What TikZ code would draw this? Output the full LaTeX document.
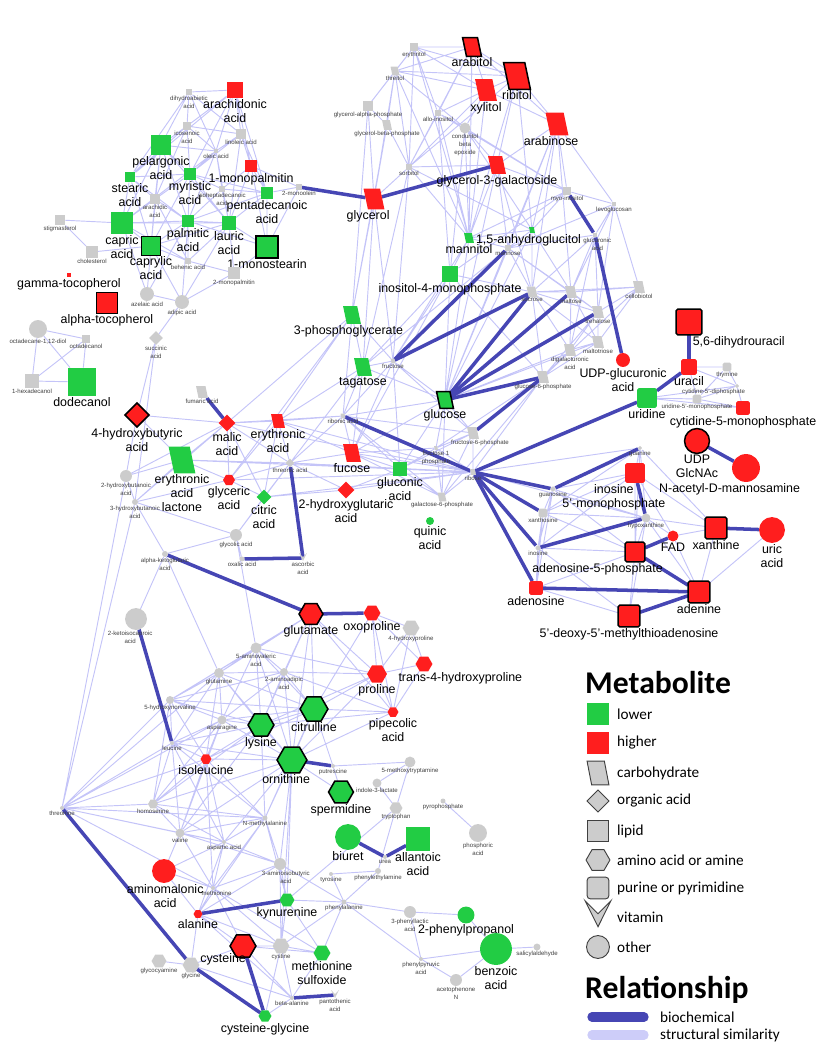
\documentclass[tikz,border=0pt]{standalone}
\usepackage{fontspec}
\setmainfont{Liberation Sans}
\newfontfamily\legfont{Carlito}
\usetikzlibrary{shapes,backgrounds}
\definecolor{lowgreen}{RGB}{34,204,68}
\definecolor{highred}{RGB}{255,30,30}
\definecolor{nodegray}{RGB}{204,204,204}
\definecolor{biochem}{RGB}{70,70,180}
\definecolor{simedge}{RGB}{196,196,248}

\tikzset{
  met/.style={inner sep=0pt, outer sep=0pt},
  lipid/.style={met, rectangle, minimum size=#1*0.85pt},
  nucl/.style={met, rectangle, rounded corners=1.5pt, minimum size=#1*0.85pt},
  other/.style={met, circle, minimum size=#1*0.85pt},
  oacid/.style={met, diamond, minimum size=#1*0.85pt},
  amine/.style={met, regular polygon, regular polygon sides=6, minimum size=#1*0.85pt},
  carbo/.style={met, inner sep=0.1pt, trapezium, trapezium left angle=110, trapezium right angle=70,
    trapezium stretches=true, minimum height=#1*0.85pt, minimum width=#1*0.85pt},
  vitam/.style={met, inner sep=0.1pt, dart, dart tip angle=53, dart tail angle=100,
    shape border rotate=270, minimum size=#1*0.85pt},
  lowfill/.style={fill=lowgreen},
  highfill/.style={fill=highred},
  nafill/.style={fill=nodegray},
  sig/.style={draw=black, line width=1.3pt},
  biglbl/.style={font=\fontsize{10.6}{12}\selectfont, align=center, inner sep=1pt},
  smalllbl/.style={font=\fontsize{5.2}{6.6}\selectfont, text=black!75, align=center, inner sep=0.6pt},
  blab/.style={label={[biglbl]below:#1}},
  slab/.style={label={[smalllbl]below:#1}},
  sim/.style={draw=simedge, line width=0.8pt},
  bio/.style={draw=biochem, line width=3pt},
  keytitle/.style={font=\legfont\bfseries\fontsize{27}{30}\selectfont, inner sep=0pt, anchor=west},
  keytext/.style={font=\legfont\fontsize{13}{15}\selectfont, inner sep=0pt, anchor=west},
  keyshape/.style={fill=nodegray, draw=black!75, line width=0.8pt},
}

\begin{document}
\begin{tikzpicture}[x=0.03cm, y=-0.03cm]
\useasboundingbox (0,0) rectangle (819,1050);

% lipids
\node[lipid=7, nafill, slab={dihydroabietic\\acid}] (dihydroabietic) at (189,92) {};
\node[lipid=17, highfill, blab={arachidonic\\acid}] (arachidonic) at (235,90) {};
\node[lipid=8, nafill, slab={icosenoic\\acid}] (icosenoic) at (187,126) {};
\node[lipid=10, nafill, slab={linoleic acid}] (linoleic) at (241,134) {};
\node[lipid=4, nafill, slab={oleic acid}] (oleic) at (216,151) {};
\node[lipid=20, lowfill, blab={pelargonic\\acid}] (pelargonic) at (161,145) {};
\node[lipid=12, highfill, blab={1-monopalmitin}] (onemonopalm) at (251,166) {};
\node[lipid=11, lowfill, blab={stearic\\acid}] (stearic) at (130,177) {};
\node[lipid=13, lowfill, blab={myristic\\acid}] (myristic) at (190,174) {};
\node[lipid=6, nafill, slab={isoheptadecanoic\\acid}] (isoheptadec) at (222,189) {};
\node[lipid=10, nafill, slab={arachidic\\acid}] (arachidic) at (155,199) {};
\node[lipid=13, lowfill, blab={pentadecanoic\\acid}] (pentadecanoic) at (267,193) {};
\node[lipid=22, lowfill, blab={capric\\acid}] (capric) at (122,223) {};
\node[lipid=12, lowfill, blab={palmitic\\acid}] (palmitic) at (188,221) {};
\node[lipid=14, lowfill, blab={lauric\\acid}] (lauric) at (229,223) {};
\node[lipid=22, lowfill, sig, blab={1-monostearin}] (onemonostear) at (267,247) {};
\node[lipid=19, lowfill, sig, blab={caprylic\\acid}] (caprylic) at (151,246) {};
\node[lipid=11, nafill, slab={stigmasterol}] (stigmasterol) at (60,220) {};
\node[lipid=12, nafill, slab={cholesterol}] (cholesterol) at (92,252) {};
\node[lipid=6, nafill, slab={behenic acid}] (behenic) at (188,261) {};
\node[lipid=4, highfill, blab={gamma-tocopherol}] (gammatoco) at (69,275) {};
\node[lipid=12, nafill, slab={2-monopalmitin}] (twomonopalm) at (234,273) {};
\node[lipid=21, highfill, sig, blab={alpha-tocopherol}] (alphatoco) at (107,303) {};
\node[other=14, nafill, slab={azelaic acid}] (azelaic) at (147,294) {};
\node[other=14, nafill, slab={adipic acid}] (adipic) at (182,302) {};
\node[other=18, nafill, slab={octadecane-1,12-diol}] (octadecanediol) at (38,329) {};
\node[lipid=8, nafill, slab={octadecanol}] (octadecanol) at (86,339) {};
\node[oacid=14, nafill, slab={succinic\\acid}] (succinic) at (156,338) {};
\node[lipid=14, nafill, slab={1-hexadecanol}] (hexadecanol) at (32,381) {};
\node[lipid=29, lowfill, blab={dodecanol}] (dodecanol) at (82,382) {};
\node[lipid=6, nafill, slab={2-monoolein}] (twomonoolein) at (299,187) {};

% sugars and polyols
\node[lipid=8, nafill, slab={erythritol}] (erythritol) at (414,47) {};
\node[carbo=9, nafill, slab={threitol}] (threitol) at (395,71) {};
\node[carbo=19, highfill, sig, blab={arabitol}] (arabitol) at (472,47) {};
\node[carbo=27, highfill, sig, blab={ribitol}] (ribitol) at (517,76) {};
\node[carbo=22, highfill, blab={xylitol}] (xylitol) at (486,90) {};
\node[lipid=10, nafill, slab={glycerol-alpha-phosphate}] (glycerolalpha) at (368,106) {};
\node[carbo=10, nafill, slab={glycerol-beta-phosphate}] (glycerolbeta) at (387,125) {};
\node[lipid=7, nafill, slab={allo-inositol}] (alloinositol) at (438,113) {};
\node[other=11, nafill, slab={conduritol\\beta\\epoxide}] (conduritol) at (465,128) {};
\node[lipid=6, nafill, slab={sorbitol}] (sorbitol) at (409,167) {};
\node[carbo=21, highfill, label={[biglbl,xshift=-5pt]below:glycerol}] (glycerol) at (374,199) {};
\node[carbo=18, highfill, blab={glycerol-3-galactoside}] (glycgal) at (497,165) {};
\node[carbo=23, highfill, label={[biglbl,xshift=-5pt]below:arabinose}] (arabinose) at (557,124) {};
\node[carbo=10, lowfill, blab={mannitol}] (mannitol) at (469,238) {};
\node[carbo=6, lowfill, label={[biglbl,xshift=-3pt]below:1,5-anhydroglucitol}] (anhydroglucitol) at (532,230) {};
\node[lipid=6, nafill, slab={mannose}] (mannose) at (508,248) {};
\node[lipid=9, nafill, slab={myo-inositol}] (myoinositol) at (567,191) {};
\node[lipid=5, nafill, slab={levoglucosan}] (levoglucosan) at (614,204) {};
\node[lipid=5, nafill, label={[smalllbl,xshift=2pt]below:glucuronic\\acid}] (glucuronic) at (595,235) {};
\node[lipid=17, lowfill, blab={inositol-4-monophosphate}] (inositolmp) at (450,274) {};
\node[carbo=11, nafill, slab={sucrose}] (sucrose) at (532,292) {};
\node[carbo=12, nafill, slab={maltose}] (maltose) at (571,292) {};
\node[carbo=12, nafill, slab={cellobiotol}] (cellobiotol) at (639,287) {};
\node[carbo=12, nafill, slab={trehalose}] (trehalose) at (598,312) {};
\node[carbo=12, nafill, slab={maltotriose}] (maltotriose) at (598,342) {};
\node[carbo=12, nafill, slab={digalacturonic\\acid}] (digalacturonic) at (570,350) {};
\node[carbo=12, nafill, slab={glucose-6-phosphate}] (glucosesixp) at (543,377) {};
\node[carbo=18, lowfill, label={[biglbl,xshift=-3pt]below:3-phosphoglycerate}] (phosphoglycerate) at (352,315) {};
\node[carbo=5, nafill, slab={fructose}] (fructose) at (393,361) {};
\node[carbo=18, lowfill, blab={tagatose}] (tagatose) at (363,367) {};
\node[carbo=17, lowfill, sig, blab={glucose}] (glucose) at (445,400) {};
\node[carbo=12, nafill, label={[smalllbl,xshift=6pt]below:fructose-6-phosphate}] (fructosesixp) at (473,433) {};
\node[carbo=4, nafill, slab={fructose 1\\phosphate}] (fructoseonep) at (436,448) {};
\node[carbo=5, nafill, slab={ribonic acid}] (ribonic) at (343,416) {};
\node[carbo=6, nafill, slab={ribose}] (ribose) at (473,472) {};
\node[oacid=9, nafill, slab={threonic acid}] (threonic) at (290,463) {};
\node[carbo=18, highfill, blab={fucose}] (fucose) at (352,453) {};
\node[lipid=15, lowfill, blab={gluconic\\acid}] (gluconic) at (400,469) {};
\node[oacid=17, highfill, blab={2-hydroxyglutaric\\acid}] (hydroxyglutaric) at (346,490) {};
\node[carbo=9, nafill, slab={galactose-6-phosphate}] (galactosesixp) at (442,497) {};
\node[other=8, lowfill, blab={quinic\\acid}] (quinic) at (430,521) {};

% organic acids
\node[carbo=12, nafill, slab={fumaric acid}] (fumaric) at (202,392) {};
\node[oacid=24, highfill, sig, blab={4-hydroxybutyric\\acid}] (hydroxybutyric) at (137,415) {};
\node[oacid=17, highfill, blab={malic\\acid}] (malic) at (227,423) {};
\node[carbo=14, highfill, blab={erythronic\\acid}] (erythronic) at (278,421) {};
\node[carbo=27, lowfill, blab={erythronic\\acid\\lactone}] (erythroniclactone) at (182,460) {};
\node[amine=12, highfill, blab={glyceric\\acid}] (glyceric) at (229,480) {};
\node[oacid=15, lowfill, blab={citric\\acid}] (citric) at (264,497) {};
\node[other=12, nafill, slab={2-hydroxybutanoic\\acid}] (hydroxybutanoictwo) at (126,476) {};
\node[other=6, nafill, slab={3-hydroxybutanoic\\acid}] (hydroxybutanoicthree) at (135,502) {};
\node[other=12, nafill, slab={glycolic acid}] (glycolic) at (236,535) {};
\node[other=5, nafill, slab={oxalic acid}] (oxalic) at (242,559) {};
\node[other=6, nafill, slab={alpha-ketoglutaric\\acid}] (ketoglutaric) at (165,554) {};
\node[vitam=8, nafill, slab={ascorbic\\acid}] (ascorbic) at (303,558) {};

% purines and pyrimidines
\node[nucl=26, highfill, sig, label={[biglbl,anchor=north west,xshift=-9pt]south east:5,6-dihydrouracil}] (dihydrouracil) at (689,322) {};
\node[nucl=16, highfill, blab={uracil}] (uracil) at (689,367) {};
\node[nucl=9, nafill, slab={thymine}] (thymine) at (727,367) {};
\node[nucl=4, nafill, label={[smalllbl,xshift=-20pt]below:cytidine-5'-diphosphate}] (cdp) at (737,386) {};
\node[nucl=20, lowfill, blab={uridine}] (uridine) at (647,398) {};
\node[nucl=9, nafill, slab={uridine-5'-monophosphate}] (ump) at (697,399) {};
\node[nucl=14, highfill, blab={cytidine-5-monophosphate}] (cmp) at (743,408) {};
\node[other=14, highfill, blab={UDP-glucuronic\\acid}] (udpglucuronic) at (623,360) {};
\node[other=25, highfill, sig, blab={UDP\\GlcNAc}] (udpglcnac) at (697,441) {};
\node[other=28, highfill, label={[biglbl,xshift=-14pt]below:N-acetyl-D-mannosamine}] (acetylmannosamine) at (746,468) {};
\node[nucl=4, nafill, slab={guanine}] (guanine) at (640,448) {};
\node[nucl=20, highfill, label={[biglbl,xshift=-18pt]below:inosine\\5'-monophosphate}] (imp) at (635,473) {};
\node[nucl=5, nafill, slab={guanosine}] (guanosine) at (553,489) {};
\node[nucl=9, nafill, slab={xanthosine}] (xanthosine) at (543,513) {};
\node[other=9, nafill, slab={hypoxanthine}] (hypoxanthine) at (646,518) {};
\node[nucl=5, nafill, slab={inosine}] (inosine) at (538,548) {};
\node[other=11, highfill, blab={FAD}] (fad) at (673,536) {};
\node[nucl=20, highfill, sig, label={[biglbl,xshift=-32pt]below:adenosine-5-phosphate}] (amp) at (635,552) {};
\node[nucl=22, highfill, sig, blab={xanthine}] (xanthine) at (716,528) {};
\node[other=26, highfill, blab={uric\\acid}] (uric) at (772,530) {};
\node[nucl=14, highfill, blab={adenosine}] (adenosine) at (536,588) {};
\node[nucl=22, highfill, sig, blab={adenine}] (adenine) at (699,592) {};
\node[nucl=22, highfill, sig, blab={5'-deoxy-5'-methylthioadenosine}] (methylthioadenosine) at (629,616) {};

% amino acids and amines
\node[other=22, nafill, label={[smalllbl,xshift=-5pt]below:2-ketoisocaproic\\acid}] (ketoisocaproic) at (136,619) {};
\node[amine=24, highfill, sig, blab={glutamate}] (glutamate) at (311,614) {};
\node[amine=17, highfill, blab={oxoproline}] (oxoproline) at (372,613) {};
\node[amine=17, nafill, slab={4-hydroxyproline}] (hydroxyproline) at (411,628) {};
\node[amine=17, highfill, label={[biglbl,xshift=31pt]below:trans-4-hydroxyproline}] (transhydroxyproline) at (424,664) {};
\node[amine=20, highfill, blab={proline}] (proline) at (377,674) {};
\node[other=11, nafill, slab={5-aminovaleric\\acid}] (aminovaleric) at (256,648) {};
\node[other=10, nafill, slab={glutamine}] (glutamine) at (219,673) {};
\node[other=8, nafill, slab={2-aminoadipic\\acid}] (aminoadipic) at (284,672) {};
\node[other=8, nafill, slab={5-hydroxynorvaline}] (hydroxynorvaline) at (170,700) {};
\node[other=9, nafill, slab={asparagine}] (asparagine) at (222,720) {};
\node[amine=26, lowfill, sig, blab={lysine}] (lysine) at (261,725) {};
\node[amine=28, lowfill, sig, blab={citrulline}] (citrulline) at (314,709) {};
\node[amine=11, highfill, blab={pipecolic\\acid}] (pipecolic) at (393,712) {};
\node[other=4, nafill, slab={leucine}] (leucine) at (172,743) {};
\node[amine=11, highfill, blab={isoleucine}] (isoleucine) at (206,759) {};
\node[amine=30, lowfill, sig, label={[biglbl,xshift=-5pt]below:ornithine}] (ornithine) at (292,760) {};
\node[other=4, nafill, slab={putrescine}] (putrescine) at (333,766) {};
\node[other=11, nafill, slab={5-methoxytryptamine}] (methoxytryptamine) at (410,762) {};
\node[amine=25, lowfill, sig, blab={spermidine}] (spermidine) at (341,792) {};
\node[other=9, nafill, slab={indole-3-lactate}] (indolelactate) at (377,783) {};
\node[amine=13, nafill, slab={tryptophan}] (tryptophan) at (396,808) {};
\node[other=5, nafill, slab={pyrophosphate}] (pyrophosphate) at (443,801) {};
\node[other=18, nafill, slab={phosphoric\\acid}] (phosphoric) at (478,833) {};
\node[other=26, lowfill, blab={biuret}] (biuret) at (348,837) {};
\node[lipid=24, lowfill, blab={allantoic\\acid}] (allantoic) at (418,839) {};
\node[other=4, nafill, slab={urea}] (urea) at (385,857) {};
\node[other=4, nafill, slab={tyrosine}] (tyrosine) at (331,874) {};
\node[other=6, nafill, slab={phenylethylamine}] (phenylethylamine) at (378,871) {};
\node[other=5, nafill, slab={phenylalanine}] (phenylalanine) at (344,902) {};
\node[other=12, nafill, slab={3-phenyllactic\\acid}] (phenyllactic) at (410,912) {};
\node[other=17, lowfill, blab={2-phenylpropanol}] (phenylpropanol) at (466,915) {};
\node[other=32, lowfill, blab={benzoic\\acid}] (benzoic) at (496,949) {};
\node[other=7, nafill, slab={salicylaldehyde}] (salicylaldehyde) at (537,947) {};
\node[other=4, nafill, slab={phenylpyruvic\\acid}] (phenylpyruvic) at (421,959) {};
\node[other=12, nafill, slab={acetophenone\\N}] (acetophenone) at (456,980) {};
\node[other=4, nafill, slab={threonine}] (threonine) at (62,808) {};
\node[amine=10, nafill, slab={homoserine}] (homoserine) at (153,804) {};
\node[other=5, nafill, slab={N-methylalanine}] (methylalanine) at (265,818) {};
\node[other=9, nafill, slab={valine}] (valine) at (180,833) {};
\node[other=4, nafill, slab={aspartic acid}] (aspartic) at (224,842) {};
\node[other=24, highfill, label={[biglbl,xshift=1pt]below:aminomalonic\\acid}] (aminomalonic) at (164,871) {};
\node[other=4, nafill, label={[smalllbl,xshift=3pt]below:methionine}] (methionine) at (213,888) {};
\node[other=12, nafill, label={[smalllbl,xshift=5pt]below:3-aminoisobutyric\\acid}] (aminoisobutyric) at (280,864) {};
\node[amine=9, highfill, blab={alanine}] (alanine) at (198,914) {};
\node[amine=15, lowfill, blab={kynurenine}] (kynurenine) at (287,900) {};
\node[amine=26, highfill, sig, label={[biglbl,xshift=-17pt,yshift=4pt]below:cysteine}] (cysteine) at (243,946) {};
\node[amine=15, nafill, slab={glycocyamine}] (glycocyamine) at (159,961) {};
\node[amine=17, nafill, slab={glycine}] (glycine) at (191,965) {};
\node[amine=13, lowfill, blab={cysteine-glycine}] (cysteineglycine) at (265,1016) {};
\node[amine=17, nafill, slab={cystine}] (cystine) at (281,946) {};
\node[amine=17, lowfill, blab={methionine\\sulfoxide}] (methioninesulfoxide) at (322,953) {};
\node[other=4, nafill, slab={beta-alanine}] (betaalanine) at (292,998) {};
\node[vitam=8, nafill, slab={pantothenic\\acid}] (pantothenic) at (335,995) {};

\begin{scope}[on background layer]
% structural similarity
\draw[sim] (dihydroabietic) -- (arachidonic) (dihydroabietic) -- (icosenoic) (dihydroabietic) -- (linoleic)
  (dihydroabietic) -- (pelargonic) (dihydroabietic) -- (oleic) (dihydroabietic) -- (stearic)
  (arachidonic) -- (icosenoic) (arachidonic) -- (linoleic) (arachidonic) -- (oleic) (arachidonic) -- (myristic)
  (arachidonic) -- (onemonopalm) (arachidonic) -- (stearic) (arachidonic) -- (pentadecanoic)
  (icosenoic) -- (pelargonic) (icosenoic) -- (linoleic) (icosenoic) -- (oleic) (icosenoic) -- (stearic)
  (icosenoic) -- (arachidic) (icosenoic) -- (myristic)
  (linoleic) -- (oleic) (linoleic) -- (onemonopalm) (linoleic) -- (pentadecanoic) (linoleic) -- (lauric) (linoleic) -- (myristic)
  (oleic) -- (pelargonic) (oleic) -- (myristic) (oleic) -- (isoheptadec) (oleic) -- (palmitic) (oleic) -- (capric) (oleic) -- (lauric)
  (pelargonic) -- (stearic) (pelargonic) -- (myristic) (pelargonic) -- (arachidic) (pelargonic) -- (capric)
  (pelargonic) -- (palmitic) (pelargonic) -- (lauric) (pelargonic) -- (caprylic)
  (stearic) -- (myristic) (stearic) -- (arachidic) (stearic) -- (capric) (stearic) -- (caprylic) (stearic) -- (palmitic)
  (myristic) -- (isoheptadec) (myristic) -- (palmitic) (myristic) -- (lauric) (myristic) -- (pentadecanoic)
  (myristic) -- (capric) (myristic) -- (caprylic)
  (isoheptadec) -- (pentadecanoic) (isoheptadec) -- (lauric) (isoheptadec) -- (onemonopalm) (isoheptadec) -- (palmitic)
  (arachidic) -- (capric) (arachidic) -- (palmitic) (arachidic) -- (caprylic) (arachidic) -- (behenic)
  (pentadecanoic) -- (lauric) (pentadecanoic) -- (onemonostear) (pentadecanoic) -- (onemonopalm)
  (pentadecanoic) -- (twomonoolein) (pentadecanoic) -- (palmitic)
  (onemonopalm) -- (twomonoolein) (onemonopalm) -- (onemonostear) (onemonopalm) -- (lauric)
  (capric) -- (caprylic) (capric) -- (palmitic) (capric) -- (lauric) (capric) -- (stigmasterol) (capric) -- (behenic)
  (palmitic) -- (lauric) (palmitic) -- (caprylic) (palmitic) -- (behenic) (palmitic) -- (onemonostear)
  (lauric) -- (onemonostear) (lauric) -- (caprylic) (lauric) -- (behenic) (lauric) -- (twomonopalm)
  (onemonostear) -- (twomonopalm) (onemonostear) -- (twomonoolein)
  (caprylic) -- (behenic) (caprylic) -- (azelaic) (caprylic) -- (adipic) (behenic) -- (twomonopalm)
  (stigmasterol) -- (cholesterol) (cholesterol) -- (caprylic)
  (azelaic) -- (adipic) (azelaic) -- (capric) (azelaic) -- (palmitic) (adipic) -- (lauric) (adipic) -- (palmitic)
  (adipic) -- (succinic) (adipic) -- (twomonopalm)
  (octadecanediol) -- (octadecanol) (octadecanediol) -- (hexadecanol) (octadecanediol) -- (dodecanol)
  (octadecanol) -- (dodecanol) (octadecanol) -- (hexadecanol) (hexadecanol) -- (dodecanol);
\draw[sim] (erythritol) -- (threitol) (erythritol) -- (arabitol) (erythritol) -- (ribitol) (erythritol) -- (xylitol)
  (erythritol) -- (glycerolalpha) (erythritol) -- (sorbitol) (erythritol) -- (alloinositol) (erythritol) -- (mannitol)
  (threitol) -- (arabitol) (threitol) -- (xylitol) (threitol) -- (ribitol) (threitol) -- (glycerolalpha)
  (threitol) -- (glycerolbeta) (threitol) -- (sorbitol) (threitol) -- (conduritol) (threitol) -- (glycerol) (threitol) -- (mannitol)
  (arabitol) -- (xylitol) (arabitol) -- (ribitol) (arabitol) -- (sorbitol) (arabitol) -- (arabinose)
  (arabitol) -- (mannitol) (arabitol) -- (alloinositol)
  (ribitol) -- (xylitol) (ribitol) -- (arabinose) (ribitol) -- (sorbitol) (ribitol) -- (mannitol)
  (ribitol) -- (glycgal) (ribitol) -- (anhydroglucitol)
  (xylitol) -- (sorbitol) (xylitol) -- (mannitol) (xylitol) -- (arabinose) (xylitol) -- (alloinositol) (xylitol) -- (conduritol)
  (glycerolalpha) -- (glycerolbeta) (glycerolalpha) -- (glycerol) (glycerolalpha) -- (phosphoglycerate)
  (glycerolbeta) -- (glycerol) (glycerolbeta) -- (sorbitol) (glycerolbeta) -- (phosphoglycerate)
  (alloinositol) -- (conduritol) (alloinositol) -- (myoinositol) (alloinositol) -- (inositolmp)
  (alloinositol) -- (sorbitol) (alloinositol) -- (mannitol)
  (conduritol) -- (myoinositol) (conduritol) -- (mannitol) (conduritol) -- (glycgal) (conduritol) -- (inositolmp)
  (conduritol) -- (anhydroglucitol)
  (sorbitol) -- (glycerol) (sorbitol) -- (mannitol) (sorbitol) -- (anhydroglucitol) (sorbitol) -- (glycgal)
  (sorbitol) -- (fructose) (sorbitol) -- (tagatose)
  (glycgal) -- (arabinose) (glycgal) -- (mannitol) (glycgal) -- (myoinositol) (glycgal) -- (glucose)
  (glycgal) -- (sucrose) (glycgal) -- (mannose)
  (arabinose) -- (mannose) (arabinose) -- (myoinositol) (arabinose) -- (levoglucosan) (arabinose) -- (anhydroglucitol)
  (arabinose) -- (sucrose) (arabinose) -- (glucose) (arabinose) -- (maltose)
  (myoinositol) -- (levoglucosan) (myoinositol) -- (inositolmp) (myoinositol) -- (anhydroglucitol) (myoinositol) -- (mannitol)
  (levoglucosan) -- (cellobiotol) (levoglucosan) -- (glucuronic) (levoglucosan) -- (maltose)
  (levoglucosan) -- (trehalose) (levoglucosan) -- (mannose)
  (glucuronic) -- (mannose) (glucuronic) -- (maltose) (glucuronic) -- (sucrose) (glucuronic) -- (trehalose)
  (glucuronic) -- (digalacturonic)
  (anhydroglucitol) -- (mannose) (anhydroglucitol) -- (mannitol) (anhydroglucitol) -- (sucrose)
  (anhydroglucitol) -- (maltose) (anhydroglucitol) -- (glucose)
  (mannose) -- (mannitol) (mannose) -- (sucrose) (mannose) -- (maltose) (mannose) -- (glucose)
  (mannose) -- (trehalose) (mannose) -- (tagatose)
  (mannitol) -- (inositolmp) (mannitol) -- (fructose) (mannitol) -- (glucose)
  (sucrose) -- (maltose) (sucrose) -- (trehalose) (sucrose) -- (maltotriose) (sucrose) -- (digalacturonic)
  (sucrose) -- (glucosesixp) (sucrose) -- (cellobiotol)
  (maltose) -- (trehalose) (maltose) -- (cellobiotol) (maltose) -- (maltotriose) (maltose) -- (digalacturonic)
  (trehalose) -- (cellobiotol) (trehalose) -- (maltotriose) (trehalose) -- (digalacturonic) (trehalose) -- (glucosesixp)
  (maltotriose) -- (digalacturonic) (maltotriose) -- (glucosesixp) (maltotriose) -- (cellobiotol)
  (digalacturonic) -- (glucosesixp) (cellobiotol) -- (glucosesixp)
  (glucosesixp) -- (fructosesixp) (glucosesixp) -- (fructoseonep) (glucosesixp) -- (galactosesixp) (glucosesixp) -- (ribose)
  (fructosesixp) -- (fructoseonep) (fructosesixp) -- (galactosesixp) (fructosesixp) -- (ribose)
  (fructoseonep) -- (galactosesixp) (fructoseonep) -- (ribose) (fructoseonep) -- (glucose) (galactosesixp) -- (ribose)
  (glucose) -- (fructose) (glucose) -- (tagatose) (glucose) -- (fructosesixp) (glucose) -- (ribonic)
  (glucose) -- (gluconic) (glucose) -- (fucose) (glucose) -- (galactosesixp) (glucose) -- (inositolmp)
  (glucose) -- (digalacturonic) (glucose) -- (maltotriose)
  (tagatose) -- (fructose) (tagatose) -- (phosphoglycerate) (tagatose) -- (ribonic) (tagatose) -- (fucose)
  (tagatose) -- (erythronic) (tagatose) -- (threonic) (tagatose) -- (inositolmp) (tagatose) -- (glycerol)
  (fructose) -- (phosphoglycerate) (fructose) -- (ribonic) (fructose) -- (inositolmp) (fructose) -- (fucose)
  (fructose) -- (gluconic) (fructose) -- (fructosesixp) (fructose) -- (glycerol)
  (phosphoglycerate) -- (glycerol) (phosphoglycerate) -- (ribonic) (phosphoglycerate) -- (glyceric)
  (phosphoglycerate) -- (erythronic) (phosphoglycerate) -- (malic)
  (inositolmp) -- (sucrose) (inositolmp) -- (glucosesixp) (inositolmp) -- (fucose)
  (ribonic) -- (fucose) (ribonic) -- (gluconic) (ribonic) -- (threonic) (ribonic) -- (erythronic)
  (ribonic) -- (fructosesixp) (ribonic) -- (malic) (ribonic) -- (galactosesixp)
  (fucose) -- (gluconic) (fucose) -- (threonic) (fucose) -- (erythronic) (fucose) -- (galactosesixp)
  (fucose) -- (fructoseonep) (fucose) -- (ribose)
  (gluconic) -- (galactosesixp) (gluconic) -- (fructoseonep) (gluconic) -- (threonic) (gluconic) -- (hydroxyglutaric)
  (gluconic) -- (ribose) (gluconic) -- (fructosesixp);
\draw[sim] (threonic) -- (erythronic) (threonic) -- (malic) (threonic) -- (glyceric) (threonic) -- (citric)
  (threonic) -- (hydroxyglutaric) (threonic) -- (erythroniclactone) (threonic) -- (ribose)
  (erythronic) -- (malic) (erythronic) -- (glyceric) (erythronic) -- (ribose) (erythronic) -- (citric)
  (malic) -- (glyceric) (malic) -- (erythroniclactone) (malic) -- (citric) (malic) -- (hydroxybutyric)
  (malic) -- (hydroxybutanoictwo) (malic) -- (hydroxybutanoicthree) (malic) -- (ribose)
  (glyceric) -- (erythroniclactone) (glyceric) -- (citric) (glyceric) -- (ribose) (glyceric) -- (hydroxybutanoicthree)
  (citric) -- (glycolic) (citric) -- (hydroxyglutaric) (citric) -- (ribose)
  (glycolic) -- (oxalic) (glycolic) -- (ketoglutaric) (glycolic) -- (hydroxybutanoicthree) (glycolic) -- (threonic)
  (erythroniclactone) -- (hydroxybutanoictwo) (erythroniclactone) -- (hydroxybutanoicthree)
  (erythroniclactone) -- (hydroxybutyric) (erythroniclactone) -- (ribose)
  (hydroxybutanoictwo) -- (hydroxybutanoicthree) (hydroxybutanoictwo) -- (hydroxybutyric)
  (hydroxybutanoicthree) -- (ketoglutaric) (ketoglutaric) -- (ketoisocaproic)
  (succinic) -- (hydroxybutyric) (succinic) -- (hydroxybutanoicthree) (hydroxyglutaric) -- (ribose)
  (threonine) -- (hydroxybutanoictwo) (threonine) -- (hydroxybutanoicthree)
  (glycolic) -- (aminovaleric) (ketoglutaric) -- (glutamine);
\draw[sim] (uracil) -- (thymine) (uracil) -- (ump) (uracil) -- (cdp) (uridine) -- (ump) (uridine) -- (cdp)
  (uridine) -- (cmp) (ump) -- (cmp) (ump) -- (cdp) (cdp) -- (cmp) (thymine) -- (cdp) (thymine) -- (ump)
  (guanine) -- (imp) (guanine) -- (hypoxanthine) (guanine) -- (xanthosine) (guanine) -- (xanthine) (guanine) -- (amp)
  (guanosine) -- (xanthosine) (guanosine) -- (inosine) (guanosine) -- (imp) (guanosine) -- (amp)
  (guanosine) -- (hypoxanthine) (guanosine) -- (adenosine)
  (xanthosine) -- (inosine) (xanthosine) -- (hypoxanthine) (xanthosine) -- (adenosine) (xanthosine) -- (amp)
  (xanthosine) -- (imp)
  (inosine) -- (adenosine) (inosine) -- (amp) (inosine) -- (imp) (inosine) -- (methylthioadenosine)
  (hypoxanthine) -- (fad) (hypoxanthine) -- (xanthine) (hypoxanthine) -- (adenine) (hypoxanthine) -- (amp)
  (hypoxanthine) -- (methylthioadenosine)
  (imp) -- (amp) (imp) -- (xanthine) (imp) -- (fad)
  (amp) -- (adenosine) (amp) -- (methylthioadenosine) (adenosine) -- (methylthioadenosine)
  (xanthine) -- (adenine) (fad) -- (xanthine) (fad) -- (adenine) (uric) -- (adenine)
  (ribose) -- (guanine) (ribose) -- (hypoxanthine);
\draw[sim] (glutamate) -- (aminovaleric) (glutamate) -- (glutamine) (glutamate) -- (aminoadipic) (glutamate) -- (proline)
  (glutamate) -- (citrulline) (glutamate) -- (lysine) (glutamate) -- (hydroxynorvaline) (glutamate) -- (ornithine)
  (glutamate) -- (pipecolic)
  (oxoproline) -- (proline) (oxoproline) -- (hydroxyproline) (oxoproline) -- (transhydroxyproline)
  (oxoproline) -- (pipecolic) (oxoproline) -- (citrulline)
  (hydroxyproline) -- (proline) (hydroxyproline) -- (transhydroxyproline) (hydroxyproline) -- (pipecolic)
  (transhydroxyproline) -- (proline) (transhydroxyproline) -- (pipecolic)
  (proline) -- (pipecolic) (proline) -- (aminoadipic) (proline) -- (citrulline) (proline) -- (ornithine)
  (proline) -- (aminovaleric) (proline) -- (lysine)
  (pipecolic) -- (citrulline) (pipecolic) -- (ornithine) (pipecolic) -- (lysine) (pipecolic) -- (aminoadipic)
  (aminovaleric) -- (glutamine) (aminovaleric) -- (aminoadipic) (aminovaleric) -- (lysine) (aminovaleric) -- (citrulline)
  (aminovaleric) -- (hydroxynorvaline) (aminovaleric) -- (ornithine) (aminovaleric) -- (asparagine)
  (glutamine) -- (aminoadipic) (glutamine) -- (hydroxynorvaline) (glutamine) -- (asparagine) (glutamine) -- (lysine)
  (glutamine) -- (leucine) (glutamine) -- (isoleucine) (glutamine) -- (ornithine) (glutamine) -- (citrulline)
  (aminoadipic) -- (lysine) (aminoadipic) -- (citrulline) (aminoadipic) -- (ornithine) (aminoadipic) -- (hydroxynorvaline)
  (aminoadipic) -- (asparagine)
  (hydroxynorvaline) -- (leucine) (hydroxynorvaline) -- (asparagine) (hydroxynorvaline) -- (isoleucine)
  (hydroxynorvaline) -- (lysine) (hydroxynorvaline) -- (citrulline) (hydroxynorvaline) -- (homoserine)
  (asparagine) -- (lysine) (asparagine) -- (leucine) (asparagine) -- (isoleucine) (asparagine) -- (ornithine)
  (asparagine) -- (homoserine) (asparagine) -- (citrulline) (asparagine) -- (valine)
  (lysine) -- (citrulline) (lysine) -- (ornithine) (lysine) -- (isoleucine) (lysine) -- (leucine)
  (lysine) -- (methylalanine) (lysine) -- (valine) (lysine) -- (homoserine)
  (citrulline) -- (ornithine) (citrulline) -- (isoleucine) (citrulline) -- (methylalanine)
  (leucine) -- (isoleucine) (leucine) -- (homoserine) (leucine) -- (valine) (leucine) -- (methylalanine)
  (leucine) -- (aspartic) (leucine) -- (ornithine)
  (isoleucine) -- (valine) (isoleucine) -- (homoserine) (isoleucine) -- (ornithine) (isoleucine) -- (methylalanine)
  (isoleucine) -- (aspartic) (isoleucine) -- (methionine)
  (ornithine) -- (spermidine) (ornithine) -- (methylalanine) (ornithine) -- (aminoisobutyric) (ornithine) -- (cystine)
  (ornithine) -- (valine) (ornithine) -- (homoserine) (ornithine) -- (kynurenine) (ornithine) -- (aspartic)
  (putrescine) -- (spermidine) (putrescine) -- (methoxytryptamine) (putrescine) -- (citrulline)
  (methoxytryptamine) -- (indolelactate) (methoxytryptamine) -- (tryptophan) (indolelactate) -- (tryptophan)
  (tryptophan) -- (phenylethylamine) (pyrophosphate) -- (phosphoric)
  (homoserine) -- (valine) (homoserine) -- (threonine) (homoserine) -- (aspartic) (homoserine) -- (methylalanine)
  (valine) -- (aspartic) (valine) -- (methionine) (valine) -- (methylalanine) (valine) -- (aminoisobutyric)
  (aspartic) -- (methylalanine) (aspartic) -- (methionine) (aspartic) -- (aminoisobutyric) (aspartic) -- (aminomalonic)
  (aspartic) -- (alanine)
  (methylalanine) -- (aminoisobutyric) (methylalanine) -- (alanine) (methylalanine) -- (kynurenine) (methylalanine) -- (methionine)
  (methionine) -- (alanine) (methionine) -- (aminomalonic) (methionine) -- (cysteine) (methionine) -- (methioninesulfoxide)
  (methionine) -- (cystine) (methionine) -- (aminoisobutyric)
  (aminoisobutyric) -- (alanine) (aminoisobutyric) -- (kynurenine) (aminoisobutyric) -- (phenylalanine) (aminoisobutyric) -- (cystine)
  (aminomalonic) -- (alanine) (aminomalonic) -- (valine)
  (alanine) -- (cysteine) (alanine) -- (glycine) (alanine) -- (cystine) (alanine) -- (betaalanine)
  (kynurenine) -- (phenylalanine) (kynurenine) -- (cystine) (kynurenine) -- (methioninesulfoxide) (kynurenine) -- (tryptophan)
  (cysteine) -- (cystine) (cysteine) -- (glycine) (cysteine) -- (methioninesulfoxide) (cysteine) -- (betaalanine)
  (cystine) -- (methioninesulfoxide) (cystine) -- (cysteineglycine) (cystine) -- (betaalanine) (cystine) -- (phenylalanine)
  (glycine) -- (glycocyamine) (glycine) -- (betaalanine)
  (betaalanine) -- (cysteineglycine) (betaalanine) -- (methioninesulfoxide)
  (phenylalanine) -- (tyrosine) (phenylalanine) -- (phenylethylamine) (phenylalanine) -- (phenyllactic)
  (phenylalanine) -- (phenylpyruvic) (phenylalanine) -- (methioninesulfoxide)
  (tyrosine) -- (phenylethylamine) (phenyllactic) -- (phenylpropanol) (phenyllactic) -- (phenylpyruvic)
  (phenylpropanol) -- (benzoic) (phenylpyruvic) -- (benzoic) (phenylpyruvic) -- (acetophenone)
  (acetophenone) -- (benzoic) (benzoic) -- (salicylaldehyde)
  (threonine) -- (valine) (threonine) -- (hydroxynorvaline) (threonine) -- (leucine) (threonine) -- (glutamine)
  (threonine) -- (asparagine) (threonine) -- (methylalanine) (threonine) -- (aspartic) (threonine) -- (isoleucine)
  (threonine) -- (methionine);

% biochemical
\draw[bio] (twomonoolein) -- (glycerol);
\draw[bio] (glycerol) -- (glycgal);
\draw[bio] (myoinositol) -- (glucuronic);
\draw[bio] (glucuronic) -- (udpglucuronic);
\draw[bio] (fructose) -- (sucrose);
\draw[bio] (fructose) -- (mannose);
\draw[bio] (glucose) -- (sucrose);
\draw[bio] (glucose) -- (maltose);
\draw[bio] (glucose) -- (trehalose);
\draw[bio] (glucose) -- (glucosesixp);
\draw[bio] (fructosesixp) -- (glucosesixp);
\draw[bio] (ribonic) -- (ribose);
\draw[bio] (ribose) -- (uridine);
\draw[bio] (ribose) -- (guanosine);
\draw[bio] (ribose) -- (xanthosine);
\draw[bio] (ribose) -- (inosine);
\draw[bio] (ribose) -- (adenosine);
\draw[bio] (guanosine) -- (guanine);
\draw[bio] (imp) -- (hypoxanthine);
\draw[bio] (inosine) -- (hypoxanthine);
\draw[bio] (amp) -- (fad);
\draw[bio] (amp) -- (adenine);
\draw[bio] (adenosine) -- (adenine);
\draw[bio] (methylthioadenosine) -- (adenine);
\draw[bio] (xanthine) -- (uric);
\draw[bio] (uridine) -- (uracil);
\draw[bio] (uracil) -- (dihydrouracil);
\draw[bio] (udpglcnac) -- (acetylmannosamine);
\draw[bio] (fumaric) -- (malic);
\draw[bio] (threonic) -- (ascorbic);
\draw[bio] (ascorbic) -- (oxalic);
\draw[bio] (ketoglutaric) -- (glutamate);
\draw[bio] (glutamate) -- (oxoproline);
\draw[bio] (ketoisocaproic) -- (leucine);
\draw[bio] (ornithine) -- (putrescine);
\draw[bio] (biuret) -- (urea);
\draw[bio] (urea) -- (allantoic);
\draw[bio] (kynurenine) -- (alanine);
\draw[bio] (threonine) -- (glycine);
\draw[bio] (glycine) -- (cysteineglycine);
\draw[bio] (cysteine) -- (cysteineglycine);
\draw[bio] (betaalanine) -- (pantothenic);
\end{scope}

% legend
\node[keytitle] (keymetab) at (585,683) {Metabolite};
\node[lipid=23, lowfill] (keylow) at (598,714) {};
\node[keytext] (keylowtxt) at (617,714) {lower};
\node[lipid=23, highfill] (keyhigh) at (598,743) {};
\node[keytext] (keyhightxt) at (617,743) {higher};
\node[carbo=24, keyshape, minimum width=22*0.85pt] (keycarb) at (598,773) {};
\node[keytext] (keycarbtxt) at (617,773) {carbohydrate};
\node[oacid=22, keyshape] (keyoacid) at (598,801) {};
\node[keytext] (keyoacidtxt) at (617,801) {organic acid};
\node[lipid=22, keyshape] (keylipid) at (598,831) {};
\node[keytext] (keylipidtxt) at (617,831) {lipid};
\node[amine=24, keyshape] (keyamine) at (598,860) {};
\node[keytext] (keyaminetxt) at (617,860) {amino acid or amine};
\node[nucl=22, keyshape, rounded corners=3pt] (keynucl) at (598,888) {};
\node[keytext] (keynucltxt) at (617,888) {purine or pyrimidine};
\node[vitam=26, keyshape] (keyvitam) at (598,917) {};
\node[keytext] (keyvitamtxt) at (617,917) {vitamin};
\node[other=23, keyshape] (keyother) at (598,947) {};
\node[keytext] (keyothertxt) at (617,947) {other};

\node[keytitle] (keyrel) at (585,990) {Relationship};
\coordinate (keybioA) at (592,1017);
\coordinate (keybioB) at (644,1017);
\draw[draw=biochem, line width=8pt, line cap=round] (keybioA) -- (keybioB);
\node[keytext] (keybiotxt) at (660,1017) {biochemical};
\coordinate (keysimA) at (592,1035);
\coordinate (keysimB) at (644,1035);
\draw[draw=simedge!85, line width=8pt, line cap=round] (keysimA) -- (keysimB);
\node[keytext] (keysimtxt) at (660,1035) {structural similarity};
\end{tikzpicture}
\end{document}
